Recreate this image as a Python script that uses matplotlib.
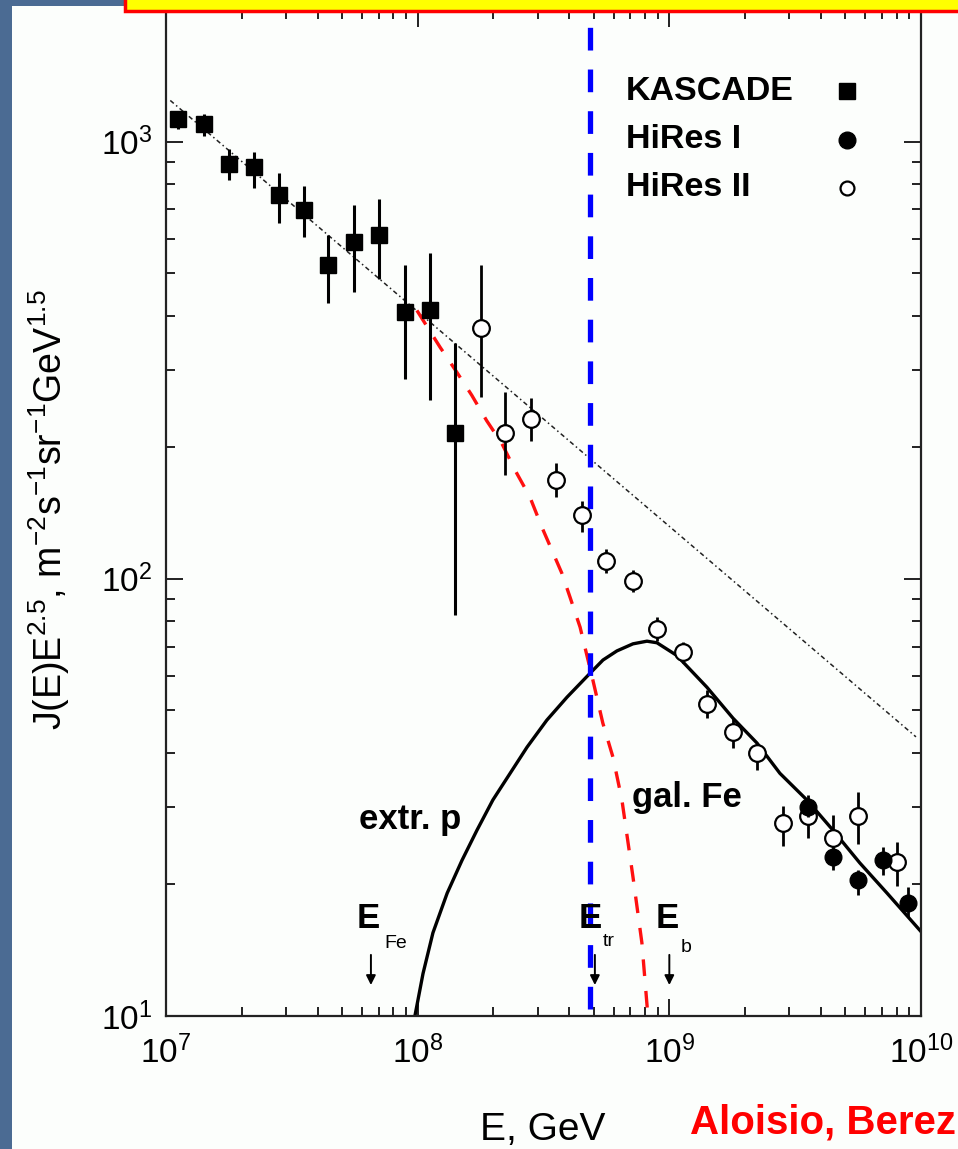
import matplotlib
matplotlib.use("Agg")
import matplotlib.pyplot as plt
from matplotlib.patches import Rectangle
from matplotlib.ticker import LogLocator, NullFormatter

plt.rcParams['font.family'] = ['Liberation Sans', 'DejaVu Sans']
plt.rcParams['mathtext.default'] = 'regular'

# KASCADE (GeV, J E^2.5)
kas_e = [1.12e7, 1.42e7, 1.78e7, 2.24e7, 2.82e7, 3.55e7, 4.41e7, 5.58e7, 7.01e7, 8.91e7, 1.12e8, 1.41e8]
kas_j = [1129, 1100, 891, 873, 753, 696, 521, 588, 613, 408, 411, 216]
kas_lo = [1071, 1032, 818, 785, 653, 604, 427, 454, 484, 287, 257, 82.6]
kas_hi = [1178, 1159, 964, 948, 849, 793, 613, 718, 741, 523, 557, 347]

# HiRes I
hr1_e = [3.56e9, 4.47e9, 5.61e9, 7.06e9, 8.87e9]
hr1_j = [30.0, 23.1, 20.5, 22.8, 18.1]
hr1_lo = [28.5, 21.6, 18.9, 21.0, 16.8]
hr1_hi = [31.6, 24.2, 21.6, 24.3, 19.7]

# HiRes II
hr2_e = [1.78e8, 2.22e8, 2.82e8, 3.54e8, 4.50e8, 5.60e8, 7.16e8, 8.93e8, 1.13e9,
         1.41e9, 1.79e9, 2.23e9, 2.83e9, 3.56e9, 4.47e9, 5.61e9, 8.02e9]
hr2_j = [374, 216, 232, 168, 140, 110, 98.6, 76.7, 67.9, 51.6, 44.6, 39.9, 27.6, 28.6, 25.5, 28.6, 22.5]
hr2_lo = [260, 173, 207, 154, 128, 103, 93.1, 72.0, 64.1, 48.0, 41.0, 36.5, 24.5, 25.5, 22.8, 24.8, 19.8]
hr2_hi = [521, 267, 259, 184, 151, 117, 105, 81.6, 71.6, 55.6, 48.0, 42.1, 30.3, 32.0, 28.8, 32.5, 25.0]

# E^-3 reference line
ref_e = [1.04e7, 9.55e9]
ref_j = [1242, 43.5]

# galactic iron
fe_e = [9.93e7, 1.23e8, 1.43e8, 1.64e8, 1.88e8, 2.16e8, 2.44e8, 2.79e8, 3.12e8, 3.42e8,
        3.74e8, 4.03e8, 4.42e8, 4.97e8, 5.44e8, 5.97e8, 6.48e8, 7.17e8, 7.78e8, 8.22e8]
fe_j = [411, 338, 297, 263, 230, 204, 177, 154, 131, 116,
        103, 90.8, 77.5, 58.6, 46.8, 39.1, 31.2, 20.8, 14.7, 10]

# extragalactic protons
p_e = [9.75e7, 1.05e8, 1.15e8, 1.31e8, 1.50e8, 1.72e8, 1.99e8, 2.33e8, 2.72e8, 3.26e8,
       3.92e8, 4.84e8, 5.45e8, 6.19e8, 7.17e8, 8.15e8, 8.93e8, 1.07e9, 1.41e9, 1.79e9,
       2.23e9, 2.75e9, 3.52e9, 4.47e9, 5.71e9, 7.33e9, 1.0e10]
p_j = [10, 12.5, 15.5, 19.1, 22.7, 26.6, 31.2, 35.9, 41.2, 47.5,
       53.6, 60.8, 65.2, 68.4, 71.0, 72.0, 71.4, 66.8, 56.5, 48.0,
       42.1, 35.9, 31.2, 26.6, 22.4, 19.1, 15.6]

e_transition = 4.84e8
marker_e = {'Fe': 6.52e7, 'tr': 5.06e8, 'b': 1.0e9}

W, H = 958, 1149
fig = plt.figure(figsize=(W / 100, H / 100), dpi=100)
fig.patch.set_facecolor('#fcfefc')

# slide frame pieces
fig.add_artist(Rectangle((0, 0), 12 / W, 1, transform=fig.transFigure,
                         facecolor='#4b6b93', edgecolor='none', zorder=0))
fig.add_artist(Rectangle((0, 1 - 6 / H), 125 / W, 6 / H, transform=fig.transFigure,
                         facecolor='#4b6b93', edgecolor='none', zorder=0))
fig.add_artist(Rectangle((125 / W, 1 - 11 / H), 1, 0.1, transform=fig.transFigure,
                         facecolor='#ffff00', edgecolor='#ff0000', lw=2.5, zorder=20))

ax = fig.add_axes([166 / W, 133 / H, 755 / W, 1006 / H])
ax.set_facecolor('none')
ax.set_xscale('log')
ax.set_yscale('log')
ax.set_xlim(1e7, 1e10)
ax.set_ylim(10, 2000)


def px(x, y):
    # pixel position -> axes fraction
    return (x - 166) / 755, (1016 - y) / 1006


BOLD = dict(fontweight='bold', transform=ax.transAxes, va='center', ha='left')

ax.plot(ref_e, ref_j, color='#222222', lw=1.1, linestyle=(0, (3, 2, 1, 2)))
ax.plot(fe_e, fe_j, color='#ff1010', lw=2.4, linestyle=(0, (5, 4.5)))
ax.plot(p_e, p_j, color='black', lw=2.4)
ax.axvline(e_transition, ymin=0.007, ymax=0.99, color='#0000ff', lw=3.8,
           linestyle=(0, (4.3, 3.6)))

ax.errorbar(kas_e, kas_j, yerr=[[j - l for j, l in zip(kas_j, kas_lo)],
                                [h - j for j, h in zip(kas_j, kas_hi)]],
            fmt='s', color='black', ms=11.5, elinewidth=2.2, capsize=0, zorder=5)
ax.errorbar(hr2_e, hr2_j, yerr=[[j - l for j, l in zip(hr2_j, hr2_lo)],
                                [h - j for j, h in zip(hr2_j, hr2_hi)]],
            fmt='o', color='black', mfc='white', mec='black', mew=1.6, ms=12,
            elinewidth=2, capsize=0, zorder=5)
ax.errorbar(hr1_e, hr1_j, yerr=[[j - l for j, l in zip(hr1_j, hr1_lo)],
                                [h - j for j, h in zip(hr1_j, hr1_hi)]],
            fmt='o', color='black', ms=12, elinewidth=2, capsize=0, zorder=6)

# legend drawn by hand
leg = [('KASCADE', 91, dict(marker='s', ms=11, mfc='black', mec='black')),
       ('HiRes I', 140, dict(marker='o', ms=12, mfc='black', mec='black')),
       ('HiRes II', 188, dict(marker='o', ms=10, mfc='white', mec='black', mew=1.6))]
for name, yy, style in leg:
    ax.text(*px(626, yy), name, fontsize=24.5, **BOLD)
    ax.plot(*px(847, yy), transform=ax.transAxes, linestyle='none', clip_on=False, **style)

ax.text(*px(359, 820), 'extr. p', fontsize=25, **BOLD)
ax.text(*px(632, 797), 'gal. Fe', fontsize=25, **BOLD)

# characteristic energies
for key, ex, sx, sy in [('Fe', 357, 384, 944), ('tr', 579, 603, 941), ('b', 656, 681, 948)]:
    ax.text(*px(ex, 919), 'E', fontsize=25, **BOLD)
    ax.text(*px(sx, sy), key, transform=ax.transAxes, fontsize=14,
            va='center', ha='left')
    ax.annotate('', xy=(marker_e[key], 11.6), xytext=(marker_e[key], 14.0),
                arrowprops=dict(arrowstyle='-|>', lw=1.4, color='black', mutation_scale=14))

ax.xaxis.set_major_locator(LogLocator(base=10, numticks=10))
ax.xaxis.set_minor_locator(LogLocator(base=10, subs=range(2, 10), numticks=20))
ax.xaxis.set_minor_formatter(NullFormatter())
ax.yaxis.set_minor_formatter(NullFormatter())
ax.tick_params(which='both', direction='in', top=True, right=True, width=1.4, color='#222222')
ax.tick_params(which='major', length=12, labelsize=24)
ax.tick_params(which='minor', length=6.5)
ax.tick_params(axis='x', which='major', pad=14)
ax.tick_params(axis='y', which='major', pad=10)
for s in ax.spines.values():
    s.set_linewidth(1.6)
    s.set_color('#222222')

ax.set_ylabel(r'J(E)E$^{2.5}$, m$^{-2}$s$^{-1}$sr$^{-1}$GeV$^{1.5}$', fontsize=27)
ax.yaxis.set_label_coords(-0.125, 0.503)
fig.text(543 / W, 1 - 1130 / H, 'E, GeV', fontsize=28, ha='center', va='center')
fig.text(690 / W, 1 - 1122 / H, 'Aloisio, Berez', fontsize=29, fontweight='bold',
         color='#ff0000', ha='left', va='center')

fig.savefig('out.png', dpi=100, facecolor=fig.get_facecolor())
